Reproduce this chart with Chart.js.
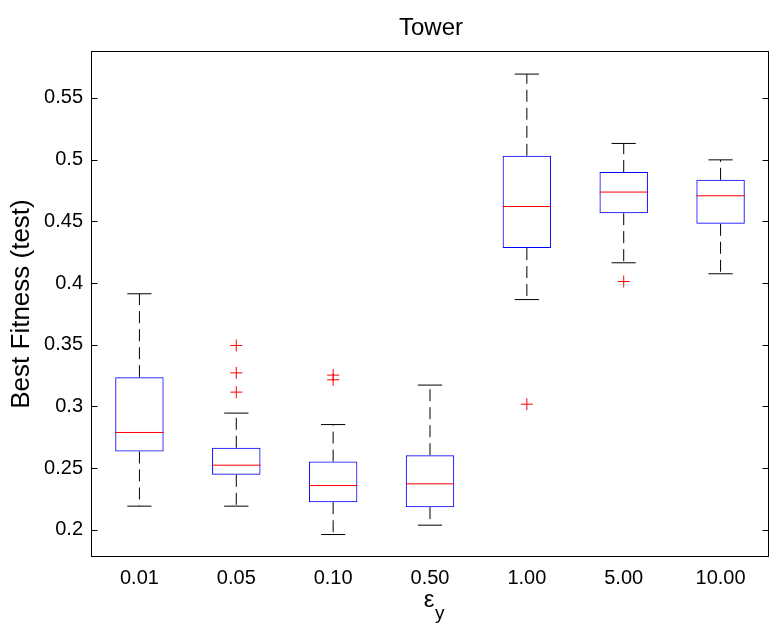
<!DOCTYPE html>
<html>
<head>
<meta charset="utf-8">
<script src="https://cdn.jsdelivr.net/npm/chart.js@4"></script>
<style>
  html, body { margin: 0; padding: 0; background: #fff; }
  #wrap { width: 778px; height: 628px; }
</style>
</head>
<body>
<div id="wrap"><canvas id="boxChart"></canvas></div>
<script>
// values
const categories = ['0.01', '0.05', '0.10', '0.50', '1.00', '5.00', '10.00'];
const lowerWhisker = [0.2192, 0.2192, 0.1962, 0.2038, 0.3866, 0.4164, 0.4075];
const q1 = [0.2635, 0.2446, 0.2224, 0.2184, 0.4283, 0.4566, 0.4480];
const median = [0.2789, 0.2524, 0.2359, 0.2373, 0.4620, 0.4737, 0.4707];
const q3 = [0.3237, 0.2665, 0.2553, 0.2605, 0.5031, 0.4899, 0.4836];
const upperWhisker = [0.3913, 0.2946, 0.2853, 0.3173, 0.5693, 0.5131, 0.4998];
const outliers = [[], [0.3494, 0.3272, 0.3116], [0.3254, 0.3216], [], [0.3018], [0.4012], []];
const yTicks = [0.2, 0.25, 0.3, 0.35, 0.4, 0.45, 0.5, 0.55];

const BOX_W = 0.5;   // in category units, like matlab boxplot
const CAP_W = 0.25;

// horizontal pieces centred on each category, null between so they don't join
function hLines(values, width) {
    const pts = [];
    values.forEach((v, i) => {
        pts.push({x: i + 1 - width / 2, y: v}, {x: i + 1 + width / 2, y: v}, {x: i + 1, y: null});
    });
    return pts;
}
function whiskers() {
    const pts = [];
    categories.forEach((c, i) => {
        pts.push({x: i + 1, y: q3[i]}, {x: i + 1, y: upperWhisker[i]}, {x: i + 1, y: null});
        pts.push({x: i + 1, y: q1[i]}, {x: i + 1, y: lowerWhisker[i]}, {x: i + 1, y: null});
    });
    return pts;
}
const outlierPoints = [];
outliers.forEach((arr, i) => arr.forEach(v => outlierPoints.push({x: i + 1, y: v})));

const FONT = 'Liberation Sans, Arial, Helvetica, sans-serif';

const framePlugin = {
    id: 'frame',
    afterDatasetsDraw(chart) {
        const {ctx, chartArea: a, scales: {y}} = chart;
        ctx.save();
        ctx.strokeStyle = '#000';
        ctx.lineWidth = 1;
        const l = Math.round(a.left) + 0.5, r = Math.round(a.right) - 0.5;
        const t = Math.round(a.top) + 0.5, b = Math.round(a.bottom) - 0.5;
        ctx.strokeRect(l, t, r - l, b - t);
        ctx.beginPath();
        yTicks.forEach(v => {
            const py = Math.round(y.getPixelForValue(v)) + 0.5;
            ctx.moveTo(l, py); ctx.lineTo(l + 6, py);
            ctx.moveTo(r, py); ctx.lineTo(r - 6, py);
        });
        ctx.stroke();
        const cx = (a.left + a.right) / 2;
        ctx.fillStyle = '#000';
        ctx.textBaseline = 'alphabetic';
        // title, centred over the plot box
        ctx.textAlign = 'center';
        ctx.font = '24px ' + FONT;
        ctx.fillText('Tower', cx + 1, 35);
        // x axis label: epsilon with subscript y
        ctx.font = '24px ' + FONT;
        ctx.fillText('ε', cx - 1, 607);
        ctx.font = '19px ' + FONT;
        ctx.textAlign = 'left';
        ctx.fillText('y', cx + 5, 619);
        ctx.restore();
    }
};

new Chart(document.getElementById('boxChart'), {
    type: 'bar',
    data: {
        datasets: [
            {
                type: 'line',
                data: hLines(median, BOX_W),
                borderColor: '#ff0000',
                borderWidth: 1,
                pointRadius: 0,
                spanGaps: false
            },
            {
                type: 'bar',
                data: categories.map((c, i) => ({x: i + 1, y: [q1[i], q3[i]]})),
                backgroundColor: 'rgba(0,0,0,0)',
                borderColor: '#0000ff',
                borderWidth: 1,
                borderSkipped: false,
                barPercentage: BOX_W,
                categoryPercentage: 1
            },
            {
                type: 'line',
                data: whiskers(),
                borderColor: '#000',
                borderWidth: 1,
                borderDash: [12, 6],
                pointRadius: 0,
                spanGaps: false
            },
            {
                type: 'line',
                data: [...hLines(upperWhisker, CAP_W), ...hLines(lowerWhisker, CAP_W)],
                borderColor: '#000',
                borderWidth: 1,
                pointRadius: 0,
                spanGaps: false
            },
            {
                type: 'line',
                data: outlierPoints,
                showLine: false,
                pointStyle: 'cross',
                pointRadius: 6,
                pointBorderWidth: 1,
                pointBorderColor: '#ff0000',
                pointBackgroundColor: '#ff0000'
            }
        ]
    },
    options: {
        responsive: true,
        maintainAspectRatio: false,
        animation: false,
        events: [],
        layout: {
            padding: {left: 0, right: 9, top: 51, bottom: 0}
        },
        scales: {
            x: {
                type: 'linear',
                min: 0.5,
                max: 7.5,
                offset: false,
                grid: {display: false, drawTicks: false},
                border: {display: false},
                afterBuildTicks: s => { s.ticks = categories.map((c, i) => ({value: i + 1})); },
                afterFit: s => { s.height = 71; },
                ticks: {
                    color: '#000',
                    padding: 9,
                    autoSkip: false,
                    maxRotation: 0,
                    font: {family: FONT, size: 20},
                    callback: v => categories[v - 1]
                }
            },
            y: {
                type: 'linear',
                min: 0.178,
                max: 0.588,
                grid: {display: false, drawTicks: false},
                border: {display: false},
                afterBuildTicks: s => { s.ticks = yTicks.map(v => ({value: v})); },
                afterFit: s => { s.width = 91; },
                ticks: {
                    color: '#000',
                    padding: 8,
                    font: {family: FONT, size: 20},
                    callback: v => String(v)
                },
                title: {
                    display: true,
                    text: 'Best Fitness (test)',
                    color: '#000',
                    font: {family: FONT, size: 26},
                    padding: {top: 6, bottom: 0}
                }
            }
        },
        plugins: {
            legend: {display: false},
            tooltip: {enabled: false},
            title: {display: false}
        }
    },
    plugins: [framePlugin]
});
</script>
</body>
</html>
